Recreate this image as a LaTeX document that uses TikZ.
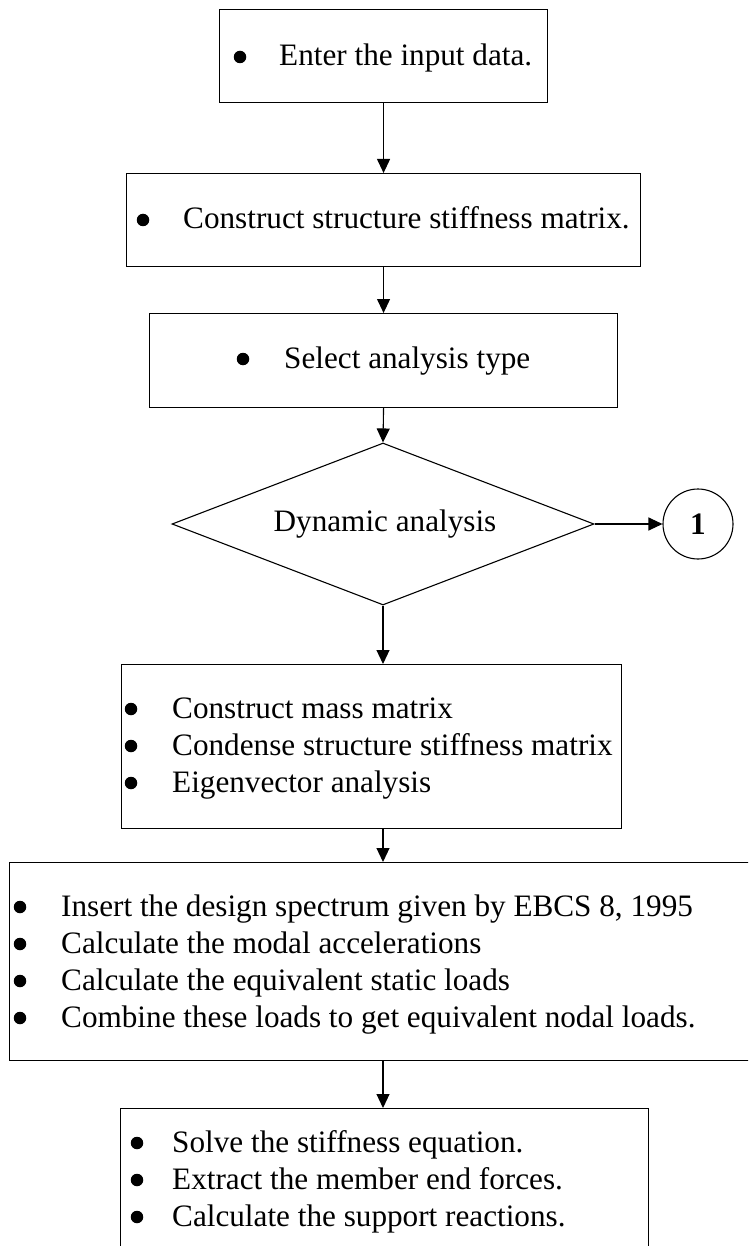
\documentclass[tikz,border=0pt]{standalone}
\usepackage{fontspec}
\setmainfont{Liberation Serif}
\usetikzlibrary{shapes.geometric,arrows.meta}

\begin{document}
\begin{tikzpicture}[x=1pt,y=-1pt,
  box/.style={draw, line width=1.1pt, rectangle, inner sep=0pt, anchor=north west},
  itemtext/.style={anchor=base west, inner sep=0pt, font=\fontsize{31.2}{37}\selectfont},
  bulletmark/.style={circle, fill=black, inner sep=0pt, minimum size=12.5pt, yshift=9pt},
  decision/.style={draw, line width=1.1pt, diamond, aspect=2.6, inner sep=0pt,
    minimum width=422pt, minimum height=162pt},
  connector/.style={draw, line width=1.1pt, circle, inner sep=0pt,
    minimum size=70pt, font=\fontsize{31.2}{37}\selectfont\bfseries},
  flow/.style={line width=1.1pt, -{Triangle[length=14pt,width=13pt]}}]

\useasboundingbox (0,0) rectangle (748,1246);
\begin{scope}
\clip (0,0) rectangle (748,1246);

% process boxes, decision and off-page connector
\node[box, minimum width=328pt, minimum height=93pt] (b1) at (219,9) {};
\node[box, minimum width=514pt, minimum height=93pt] (b2) at (126,173) {};
\node[box, minimum width=468pt, minimum height=94pt] (b3) at (149,313) {};
\node[decision] (dia) at (383,524) {};
\node[itemtext, anchor=base] (dtext) at (385,531) {Dynamic analysis};
\node[connector] (circ) at (698,524) {1};
\node[box, minimum width=500pt, minimum height=164pt] (b4) at (121,664) {};
\node[box, minimum width=760pt, minimum height=198pt] (b5) at (9,862) {};
\node[box, minimum width=528pt, minimum height=170pt] (b6) at (120,1108) {};

% box texts
\node[bulletmark] (p1) at (240,66) {};
\node[itemtext] (t1) at (279,66) {Enter the input data.};

\node[bulletmark] (p2) at (143,229) {};
\node[itemtext] (t2) at (183,229) {Construct structure stiffness matrix.};

\node[bulletmark] (p3) at (243,368) {};
\node[itemtext] (t3) at (284,368) {Select analysis type};

\node[bulletmark] (p41) at (131,718) {};
\node[itemtext] (t41) at (172,718) {Construct mass matrix};
\node[bulletmark] (p42) at (131,755) {};
\node[itemtext] (t42) at (172,755) {Condense structure stiffness matrix};
\node[bulletmark] (p43) at (131,792) {};
\node[itemtext] (t43) at (172,792) {Eigenvector analysis};

\node[bulletmark] (p51) at (20,916) {};
\node[itemtext] (t51) at (61,916) {Insert the design spectrum given by EBCS 8, 1995};
\node[bulletmark] (p52) at (20,953) {};
\node[itemtext] (t52) at (61,953) {Calculate the modal accelerations};
\node[bulletmark] (p53) at (20,990) {};
\node[itemtext] (t53) at (61,990) {Calculate the equivalent static loads};
\node[bulletmark] (p54) at (20,1027) {};
\node[itemtext] (t54) at (61,1027) {Combine these loads to get equivalent nodal loads.};

\node[bulletmark] (p61) at (137,1152) {};
\node[itemtext] (t61) at (172,1152) {Solve the stiffness equation.};
\node[bulletmark] (p62) at (137,1189) {};
\node[itemtext] (t62) at (172,1189) {Extract the member end forces.};
\node[bulletmark] (p63) at (137,1226) {};
\node[itemtext] (t63) at (172,1226) {Calculate the support reactions.};

% connectors
\draw[flow] (b1.south) -- (b2.north);
\draw[flow] (b2.south) -- (b3.north);
\draw[flow] (b3.south) -- (dia.north);
\draw[flow] (dia.east) -- (circ.west);
\draw[flow] (dia.south) -- (dia.south |- b4.north);
\draw[flow] (dia.south |- b4.south) -- (dia.south |- b5.north);
\draw[flow] (dia.south |- b5.south) -- (dia.south |- b6.north);
\end{scope}
\end{tikzpicture}
\end{document}
